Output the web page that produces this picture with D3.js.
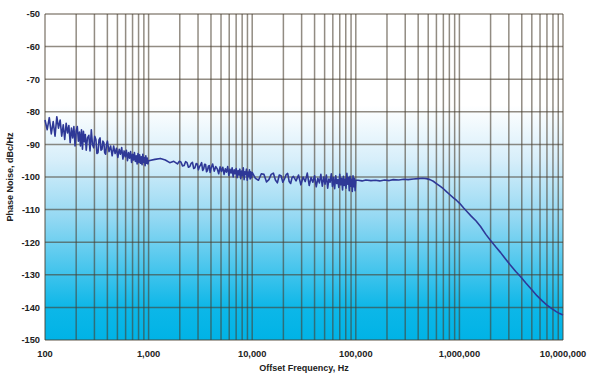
<!DOCTYPE html>
<html><head><meta charset="utf-8">
<script src="https://cdn.jsdelivr.net/npm/d3@7"></script>
<style>body{margin:0;background:#fff}svg{display:block}</style>
</head><body>
<svg id="c" width="593" height="380"></svg>
<script>
// [offset frequency (Hz), phase noise (dBc/Hz)]
const decade1 = [[100,-82.5],[105,-85.5],[110,-81.8],[115,-86.8],[120,-83],[125,-87.5],[130,-81.5],[135,-85],[140,-82.5],[145,-87.5],
[150,-84],[155,-88.5],[160,-83.5],[165,-86.5],[170,-84.2],[175,-89.5],[180,-85],[185,-88],[190,-84.5],[195,-90.5],
[200,-85.8],[205,-84.5],[210,-89],[215,-86.2],[220,-90.5],[225,-85.5],[230,-91.5],[235,-86],[240,-89.2],[245,-87],
[250,-91.8],[257,-88],[265,-87.2],[272,-92],[280,-85.5],[287,-90],[295,-91],[302,-87.5],[310,-88.5],[317,-92.8],
[325,-92.5],[332,-88.6],[340,-88],[347,-91.8],[355,-91.5],[362,-89],[370,-89.5],[377,-92.6],[385,-93],[392,-90],
[400,-89],[415,-92.2],[430,-90.5],[445,-93.5],[460,-90.5],[475,-92.8],[490,-91.2],[505,-94],[520,-91.5],[535,-93],
[550,-91],[565,-94.5],[580,-92],[595,-93.8],[610,-91.8],[625,-95],[640,-92.5],[655,-94.2],[670,-92.2],[685,-95.5],
[700,-93],[715,-94.8],[730,-92.5],[745,-95.2],[760,-93.5],[775,-96],[790,-92.8],[805,-95.5],[820,-93.2],[835,-95.8],
[850,-93.8],[865,-96.2],[880,-93],[895,-95.5],[910,-94],[925,-96.5],[940,-93.5],[955,-95.8],[970,-94.2],[985,-96]];
const decade2 = [[1000,-95],[1150,-94.6],[1300,-94.3],[1450,-94.8],[1600,-95.6],[1750,-95.2],
[1900,-96],[1975,-95.2],[2050,-95.4],[2125,-96.6],[2200,-96.5],[2275,-95.3],[2350,-95.6],[2425,-97],[2500,-96.8],[2575,-95.8],
[2650,-95.5],[2725,-97.4],[2800,-97.2],[2875,-95.9],[2950,-96],[3025,-97.8],[3100,-96.8],[3175,-96.3],[3250,-95.6],[3325,-98],
[3400,-97.5],[3475,-96.1],[3550,-96.2],[3625,-98.4],[3700,-98],[3775,-96.7],[3850,-96.5],[3925,-98.6],
[4000,-97.4],[4150,-96],[4300,-98.2],[4450,-96.8],[4600,-97.5],[4750,-99],[4900,-96.9],[5050,-98.3],[5200,-97],[5350,-99.2],
[5500,-97.5],[5650,-98.5],[5800,-96.8],[5950,-99.5],[6100,-97.6],[6250,-98.8],[6400,-97.2],[6550,-100],[6700,-97.8],[6850,-99],
[7000,-97.4],[7150,-100.2],[7300,-98],[7450,-99.4],[7600,-97.6],[7750,-100.5],[7900,-98.2],[8050,-99.6],[8200,-97.2],[8350,-100.8],
[8500,-98.4],[8650,-99.2],[8800,-97.6],[8950,-101],[9100,-98.5],[9250,-99.8],[9400,-97.8],[9550,-100.6],[9700,-98.4],[9850,-100.2]];
const decade3 = [[10000,-98.6],[10750,-100.4],[11500,-101],[12250,-99],[13000,-99.2],[13750,-101.5],[14500,-100.8],[15250,-99.2],[16000,-98.8],[16750,-100.9],
[17500,-101.8],[18250,-99.4],[19000,-99.6],[19750,-101.6],[20500,-100.6],[21250,-99.3],[22000,-98.9],[22750,-101.4],[23500,-102],[24250,-100.2],
[25000,-99.8],[26500,-101.2],[28000,-99.4],[29500,-102.4],[31000,-100],[32500,-101.4],[34000,-98.8],[35500,-102.6],[37000,-100.2],[38500,-101.6],
[40000,-99.6],[41500,-103],[43000,-100.4],[44500,-101.8],[46000,-99.2],[47500,-102.8],[49000,-100],[50500,-102.2],[52000,-99.4],[53500,-103.4],
[55000,-100.6],[56500,-101.6],[58000,-99],[59500,-102.9],[61000,-100.2],[62500,-103.6],[64000,-99.6],[65500,-102],[67000,-100.8],[68500,-103.2],
[70000,-99.2],[71500,-102.4],[73000,-100.4],[74500,-104],[76000,-99.8],[77500,-102.6],[79000,-100.6],[80500,-103.4],[82000,-98.9],[83500,-102.2],
[85000,-100.2],[86500,-104.2],[88000,-99.8],[89500,-102.8],[91000,-100.6],[92500,-104.4],[94000,-99.6],[95500,-103],[97000,-100.4],[98500,-104.2]];
const plateau = [[100000,-101],[105000,-101],[115000,-101.2],[125000,-100.9],[140000,-101.1],[155000,-101],[170000,-101.2],[190000,-100.9],[210000,-101.1],[230000,-100.8],
[260000,-100.9],[290000,-100.7],[320000,-100.8],[360000,-100.6],[400000,-100.5],[440000,-100.4],[480000,-100.5],[520000,-100.8],[560000,-101.3],[600000,-102],
[650000,-102.8],[700000,-103.6],[750000,-104.5],[800000,-105.3],[870000,-106.3],[940000,-107.2]];
const rolloff = [[1000000,-108],[1100000,-109.5],[1200000,-110.8],[1300000,-112],[1450000,-113.5],[1600000,-115.2],[1800000,-117.6],[2000000,-119.5],[2250000,-121.5],[2500000,-123.2],
[2800000,-125.2],[3100000,-127],[3500000,-129],[3900000,-130.6],[4400000,-132.6],[5000000,-134.6],[5600000,-136.4],[6300000,-138],[7000000,-139.3],[7800000,-140.4],
[8600000,-141.3],[9300000,-141.9],[10000000,-142.3]];
const yTicks = [-50,-60,-70,-80,-90,-100,-110,-120,-130,-140,-150];
const xTickValues = [100,1000,10000,100000,1000000,10000000];
const xTickLabels = ["100","1,000","10,000","100,000","1,000,000","10,000,000"];
const xTitle = "Offset Frequency, Hz";
const yTitle = "Phase Noise, dBc/Hz";

const trace = [].concat(decade1, decade2, decade3, plateau, rolloff);

const svg = d3.select("#c");
const m = {l:45, r:563, t:14, b:340};
const x = d3.scaleLog().domain([100,1e7]).range([m.l,m.r]);
const y = d3.scaleLinear().domain([-150,-50]).range([m.b,m.t]);

const defs = svg.append("defs");
const g = defs.append("linearGradient").attr("id","bg").attr("x1",0).attr("y1",0).attr("x2",0).attr("y2",1);
[[0,"#ffffff"],[0.28,"#ffffff"],[0.45,"#d6eefa"],[0.62,"#96d9f3"],[0.8,"#3ec3ec"],[0.9,"#0db7e8"],[1,"#00b3e6"]]
  .forEach(([o,c])=>g.append("stop").attr("offset",o).attr("stop-color",c));
svg.append("rect").attr("x",m.l).attr("y",m.t).attr("width",m.r-m.l).attr("height",m.b-m.t).attr("fill","url(#bg)");

const grid = svg.append("g").attr("stroke","#4a4030").attr("stroke-opacity",0.6).attr("stroke-width",1.5);
const minor = [];
for (let d=100; d<1e7; d*=10) for (let k=1;k<10;k++) minor.push(d*k);
minor.push(1e7);
grid.selectAll("line.v").data(minor).enter().append("line")
  .attr("x1",d=>x(d)).attr("x2",d=>x(d)).attr("y1",m.t).attr("y2",m.b);
grid.selectAll("line.h").data(yTicks).enter().append("line")
  .attr("x1",m.l).attr("x2",m.r).attr("y1",d=>y(d)).attr("y2",d=>y(d));

const line = d3.line().x(d=>x(d[0])).y(d=>y(d[1]));
svg.append("path").datum(trace).attr("d",line).attr("fill","none")
  .attr("stroke","#2e3897").attr("stroke-width",1.6).attr("stroke-linejoin","round");

const font = "'Liberation Sans', Arial, sans-serif";
svg.append("g").selectAll("text").data(yTicks).enter().append("text")
  .attr("x",40).attr("y",d=>y(d)+3.3).attr("text-anchor","end")
  .attr("font-family",font).attr("font-weight","bold").attr("font-size","9.3px").attr("fill","#222").text(d=>d);
svg.append("g").selectAll("text").data(xTickValues).enter().append("text")
  .attr("x",d=>x(d)).attr("y",357).attr("text-anchor","middle")
  .attr("font-family",font).attr("font-weight","bold").attr("font-size","9.3px").attr("fill","#222")
  .text((d,i)=>xTickLabels[i]);
svg.append("text").attr("x",(m.l+m.r)/2).attr("y",371).attr("text-anchor","middle")
  .attr("font-family",font).attr("font-weight","bold").attr("font-size","9px").attr("fill","#222").text(xTitle);
svg.append("text").attr("transform",`translate(13,${(m.t+m.b)/2}) rotate(-90)`).attr("text-anchor","middle")
  .attr("font-family",font).attr("font-weight","bold").attr("font-size","9px").attr("fill","#222").text(yTitle);
</script>
</body></html>
